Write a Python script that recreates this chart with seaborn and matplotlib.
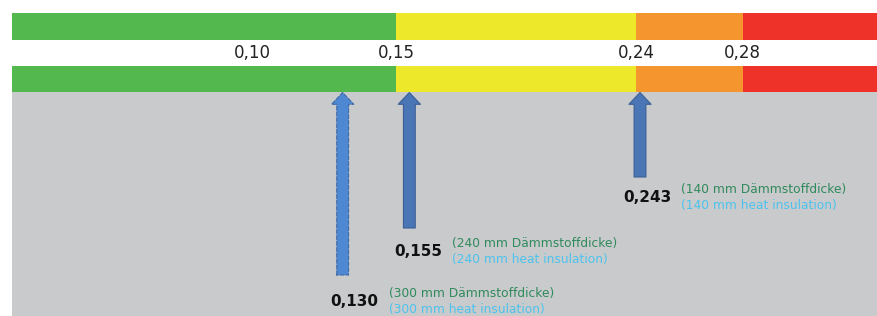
import matplotlib
matplotlib.use("Agg")
import matplotlib.pyplot as plt
import seaborn as sns
import pandas as pd

# ---- data ----
class_bounds = [0.006, 0.15, 0.24, 0.28, 0.34]
class_colors = ["#53b84d", "#eee82a", "#f5952e", "#ee3129"]
tick_values = [0.10, 0.15, 0.24, 0.28]
tick_labels = ["0,10", "0,15", "0,24", "0,28"]
u_values = [0.130, 0.155, 0.243]
u_labels = ["0,130", "0,155", "0,243"]
thickness_mm = [300, 240, 140]

# ---- layout (pixels) ----
W, H = 877, 316
arrow_bottom = [275, 228, 177]
label_y = [302, 252, 198]

sns.set_theme(style="white")
plt.rcParams["font.family"] = ["DejaVu Sans"]

fig = plt.figure(figsize=(W / 100, H / 100), dpi=100)
ax = fig.add_axes([0, 0, 1, 1])
px_per_unit = 240 / 0.09
x0 = 0.15 - 396 / px_per_unit
x1 = 0.15 + (W - 396) / px_per_unit
ax.set_xlim(x0, x1)
ax.set_ylim(H, 0)
ax.axis("off")

# grey panel
ax.barh([204], [x1 - class_bounds[0]], left=class_bounds[0], height=224,
        color="#c9cacc", linewidth=0)

# colour bands
segs = pd.DataFrame({
    "start": class_bounds[:-1],
    "end": class_bounds[1:],
    "color": class_colors,
})
for yc, h in [(26.5, 27), (79, 26)]:
    for _, r in segs.iterrows():
        end = x1 if r["end"] == class_bounds[-1] else r["end"]
        ax.barh([yc], [end - r["start"]], left=r["start"], height=h,
                color=r["color"], linewidth=0)

for v, t in zip(tick_values, tick_labels):
    xv = v if v != 0.10 else v - 10 / px_per_unit
    ax.text(xv, 53, t, ha="center", va="center", fontsize=12, color="#222222")

# arrows
fills = ["#4f88d2", "#4a76b6", "#4a76b6"]
edges = ["#3d6aa8", "#3b5f96", "#3b5f96"]
styles = ["--", "-", "-"]
for v, yb, fc, ec, ls in zip(u_values, arrow_bottom, fills, edges, styles):
    xa = v if v != 0.243 else v - 4 / px_per_unit
    ax.annotate("", xy=(xa, 92.5), xytext=(xa, yb),
                arrowprops=dict(arrowstyle="simple,head_length=8.5,head_width=16,tail_width=8.5",
                                mutation_scale=1, fc=fc, ec=ec, lw=0.8, ls=ls,
                                shrinkA=0, shrinkB=0))

# labels
label_dx = [-12, -15, -21]
for v, lab, mm, ly, dx in zip(u_values, u_labels, thickness_mm, label_y, label_dx):
    xl = v + dx / px_per_unit
    ax.text(xl, ly, lab, ha="left", va="center", fontsize=11,
            fontweight="bold", color="#111111")
    xa = xl + 58 / px_per_unit
    ax.text(xa, ly - 8, f"({mm} mm Dämmstoffdicke)", ha="left", va="center",
            fontsize=8.8, color="#2f8a5c")
    ax.text(xa, ly + 8, f"({mm} mm heat insulation)", ha="left", va="center",
            fontsize=8.8, color="#4cc3ee")

fig.savefig("out.png", dpi=100)
